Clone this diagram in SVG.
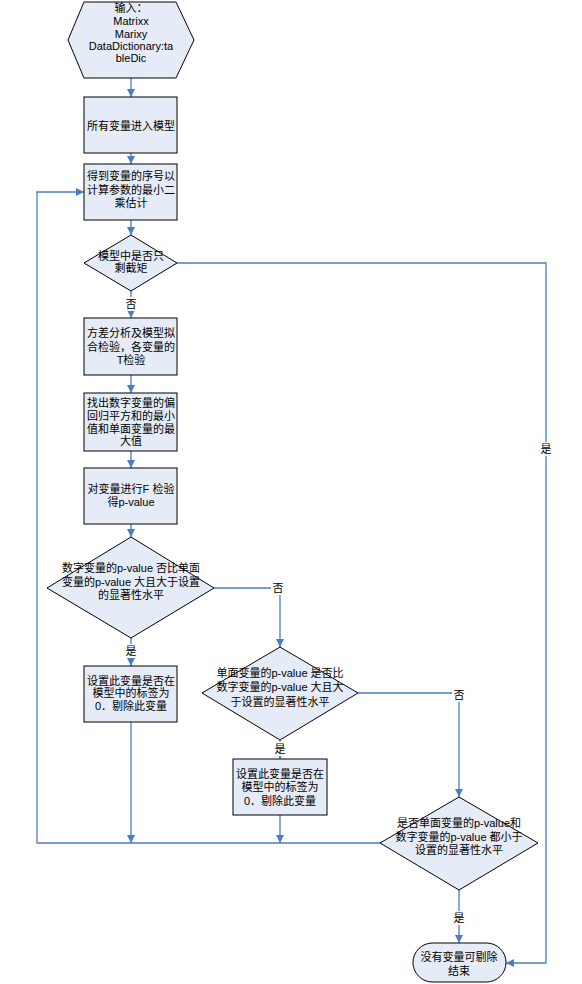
<svg xmlns="http://www.w3.org/2000/svg" width="582" height="984" viewBox="0 0 582 984">
<defs>
<style>
.n{fill:#E6ECF7;stroke:#000;stroke-width:1}
.t{font-family:"Liberation Sans","Noto Sans CJK SC",sans-serif;font-size:11px;fill:#000;text-anchor:middle}
.c{fill:none;stroke:#4A7EC4;stroke-width:1.3}
.lb{fill:#fff}
</style>
<marker id="a" viewBox="0 0 8 8" refX="8" refY="4" markerWidth="8" markerHeight="8" markerUnits="userSpaceOnUse" orient="auto">
<path d="M0,0 L8,4 L0,8 Z" fill="#4A7EC4"/>
</marker>
</defs>
<rect width="582" height="984" fill="#fff"/>
<g id="connectors">
<path class="c" d="M131,78 V97" marker-end="url(#a)"/>
<path class="c" d="M131,153 V164" marker-end="url(#a)"/>
<path class="c" d="M131,220 V235" marker-end="url(#a)"/>
<path class="c" d="M131,291 V318" marker-end="url(#a)"/>
<path class="c" d="M131,375 V393" marker-end="url(#a)"/>
<path class="c" d="M131,451 V468" marker-end="url(#a)"/>
<path class="c" d="M131,524 V537" marker-end="url(#a)"/>
<path class="c" d="M131,638 V666" marker-end="url(#a)"/>
<path class="c" d="M214,588 H280 V647" marker-end="url(#a)"/>
<path class="c" d="M280,740 V759" marker-end="url(#a)"/>
<path class="c" d="M358,693 H459 V797" marker-end="url(#a)"/>
<path class="c" d="M459,890 V943" marker-end="url(#a)"/>
<path class="c" d="M177,263 H546 V963 H506" marker-end="url(#a)"/>
<path class="c" d="M380,843 H37 V192 H84" marker-end="url(#a)"/>
<path class="c" d="M131,722 V843" marker-end="url(#a)"/>
<path class="c" d="M280,815 V843" marker-end="url(#a)"/>
<rect class="lb" x="124" y="297" width="14" height="14"/>
<text class="t" x="131" y="308">否</text>
<rect class="lb" x="124" y="644" width="14" height="14"/>
<text class="t" x="131" y="655">是</text>
<rect class="lb" x="271" y="581" width="14" height="14"/>
<text class="t" x="278" y="592">否</text>
<rect class="lb" x="273" y="742" width="14" height="14"/>
<text class="t" x="280" y="753">是</text>
<rect class="lb" x="452" y="688" width="14" height="14"/>
<text class="t" x="459" y="699">否</text>
<rect class="lb" x="452" y="911" width="14" height="14"/>
<text class="t" x="459" y="922">是</text>
<rect class="lb" x="539" y="442" width="14" height="14"/>
<text class="t" x="546" y="453">是</text>
</g>
<g id="input">
<polygon class="n" points="84,2 176,2 194,40 176,78 84,78 68,40"/>
<text class="t" x="131" y="12">输入：</text>
<text class="t" x="131" y="25">Matrixx</text>
<text class="t" x="131" y="38">Marixy</text>
<text class="t" x="131" y="50">DataDictionary:ta</text>
<text class="t" x="131" y="62">bleDic</text>
</g>
<g id="box1">
<rect class="n" x="84" y="97" width="93" height="56"/>
<text class="t" x="131" y="130">所有变量进入模型</text>
</g>
<g id="box2">
<rect class="n" x="84" y="164" width="93" height="56"/>
<text class="t" x="131" y="180">得到变量的序号以</text>
<text class="t" x="131" y="194">计算参数的最小二</text>
<text class="t" x="131" y="207">乘估计</text>
</g>
<g id="dec1">
<polygon class="n" points="131,235 177,263 131,291 84,263"/>
<text class="t" x="131" y="260">模型中是否只</text>
<text class="t" x="131" y="272">剩截矩</text>
</g>
<g id="box3">
<rect class="n" x="84" y="318" width="93" height="57"/>
<text class="t" x="131" y="337">方差分析及模型拟</text>
<text class="t" x="131" y="351">合检验，各变量的</text>
<text class="t" x="131" y="364">T检验</text>
</g>
<g id="box4">
<rect class="n" x="84" y="393" width="93" height="58"/>
<text class="t" x="131" y="407">找出数字变量的偏</text>
<text class="t" x="131" y="420">回归平方和的最小</text>
<text class="t" x="131" y="433">值和单面变量的最</text>
<text class="t" x="131" y="445">大值</text>
</g>
<g id="box5">
<rect class="n" x="84" y="468" width="93" height="56"/>
<text class="t" x="131" y="493">对变量进行F 检验</text>
<text class="t" x="131" y="506">得p-value</text>
</g>
<g id="dec2">
<polygon class="n" points="131,537 214,588 131,638 47,588"/>
<text class="t" x="131" y="572">数字变量的p-value 否比单面</text>
<text class="t" x="131" y="586">变量的p-value 大且大于设置</text>
<text class="t" x="131" y="599">的显著性水平</text>
</g>
<g id="box6">
<rect class="n" x="84" y="666" width="93" height="56"/>
<text class="t" x="131" y="685">设置此变量是否在</text>
<text class="t" x="131" y="697">模型中的标签为</text>
<text class="t" x="131" y="710">0．剔除此变量</text>
</g>
<g id="dec3">
<polygon class="n" points="280,647 358,693 280,740 202,693"/>
<text class="t" x="280" y="677">单面变量的p-value 是否比</text>
<text class="t" x="280" y="691">数字变量的p-value 大且大</text>
<text class="t" x="280" y="706">于设置的显著性水平</text>
</g>
<g id="box7">
<rect class="n" x="233" y="759" width="94" height="56"/>
<text class="t" x="280" y="778">设置此变量是否在</text>
<text class="t" x="280" y="791">模型中的标签为</text>
<text class="t" x="280" y="805">0．剔除此变量</text>
</g>
<g id="dec4">
<polygon class="n" points="459,797 538,843 459,890 380,843"/>
<text class="t" x="459" y="827">是否单面变量的p-value和</text>
<text class="t" x="459" y="841">数字变量的p-value 都小于</text>
<text class="t" x="459" y="854">设置的显著性水平</text>
</g>
<g id="end">
<rect class="n" x="413" y="943" width="93" height="39" rx="19.5" ry="19.5"/>
<text class="t" x="459" y="961">没有变量可剔除</text>
<text class="t" x="459" y="975">结束</text>
</g>
</svg>
